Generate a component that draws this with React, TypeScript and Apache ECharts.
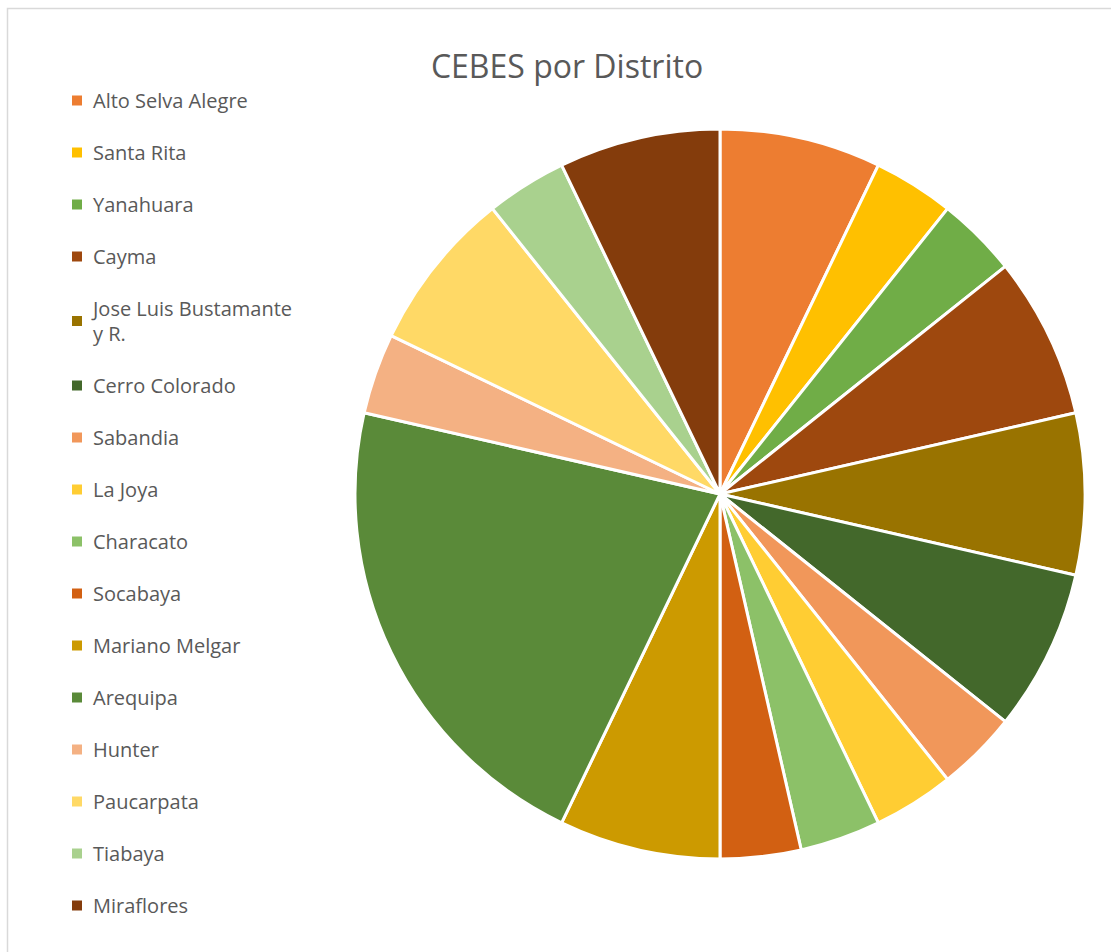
import React, { useEffect, useRef } from "react";
import * as echarts from "echarts";

const categories = [
  "Alto Selva Alegre",
  "Santa Rita",
  "Yanahuara",
  "Cayma",
  "Jose Luis Bustamante y R.",
  "Cerro Colorado",
  "Sabandia",
  "La Joya",
  "Characato",
  "Socabaya",
  "Mariano Melgar",
  "Arequipa",
  "Hunter",
  "Paucarpata",
  "Tiabaya",
  "Miraflores",
];
const values = [2, 1, 1, 2, 2, 2, 1, 1, 1, 1, 2, 6, 1, 2, 1, 2];
const colors = [
  "#ED7D31",
  "#FFC000",
  "#70AD47",
  "#9E480E",
  "#997300",
  "#43682B",
  "#F1975A",
  "#FFCD33",
  "#8CC168",
  "#D26012",
  "#CC9A00",
  "#5A8A39",
  "#F4B183",
  "#FFD966",
  "#A9D18E",
  "#843C0C",
];

const FONT = "'Open Sans', 'Noto Sans', sans-serif";

export default function App() {
  const ref = useRef<HTMLDivElement>(null);
  useEffect(() => {
    document.body.style.margin = "0";
    const chart = echarts.init(ref.current!, null, { renderer: "svg" });
    chart.setOption({
      animation: false,
      backgroundColor: "#ffffff",
      color: colors,
      title: {
        text: "CEBES por Distrito",
        left: 562,
        top: 44,
        textAlign: "center",
        textStyle: { fontFamily: FONT, fontSize: 32, fontWeight: "normal", color: "#595959" },
      },
      legend: {
        orient: "vertical",
        left: 65,
        top: 83,
        icon: "rect",
        itemWidth: 12,
        itemHeight: 12,
        itemGap: 27,
        data: categories,
        formatter: (name: string) =>
          name === "Jose Luis Bustamante y R." ? "Jose Luis Bustamante\ny R." : name,
        textStyle: { fontFamily: FONT, fontSize: 20, color: "#595959", lineHeight: 25, padding: [0, 0, 0, 5] },
      },
      graphic: [
        {
          type: "rect",
          shape: { x: 7.5, y: 8.5, width: 1200, height: 1000 },
          style: { fill: "none", stroke: "#d9d9d9", lineWidth: 1.5 },
          silent: true,
        },
      ],
      series: [
        {
          type: "pie",
          center: [720, 494],
          radius: 365,
          startAngle: 90,
          clockwise: true,
          label: { show: false },
          labelLine: { show: false },
          itemStyle: { borderColor: "#ffffff", borderWidth: 3 },
          data: categories.map((c, i) => ({ name: c, value: values[i] })),
        },
      ],
    });
    return () => chart.dispose();
  }, []);
  return <div ref={ref} style={{ width: 1111, height: 952, position: "absolute", left: 0, top: 0 }} />;
}
